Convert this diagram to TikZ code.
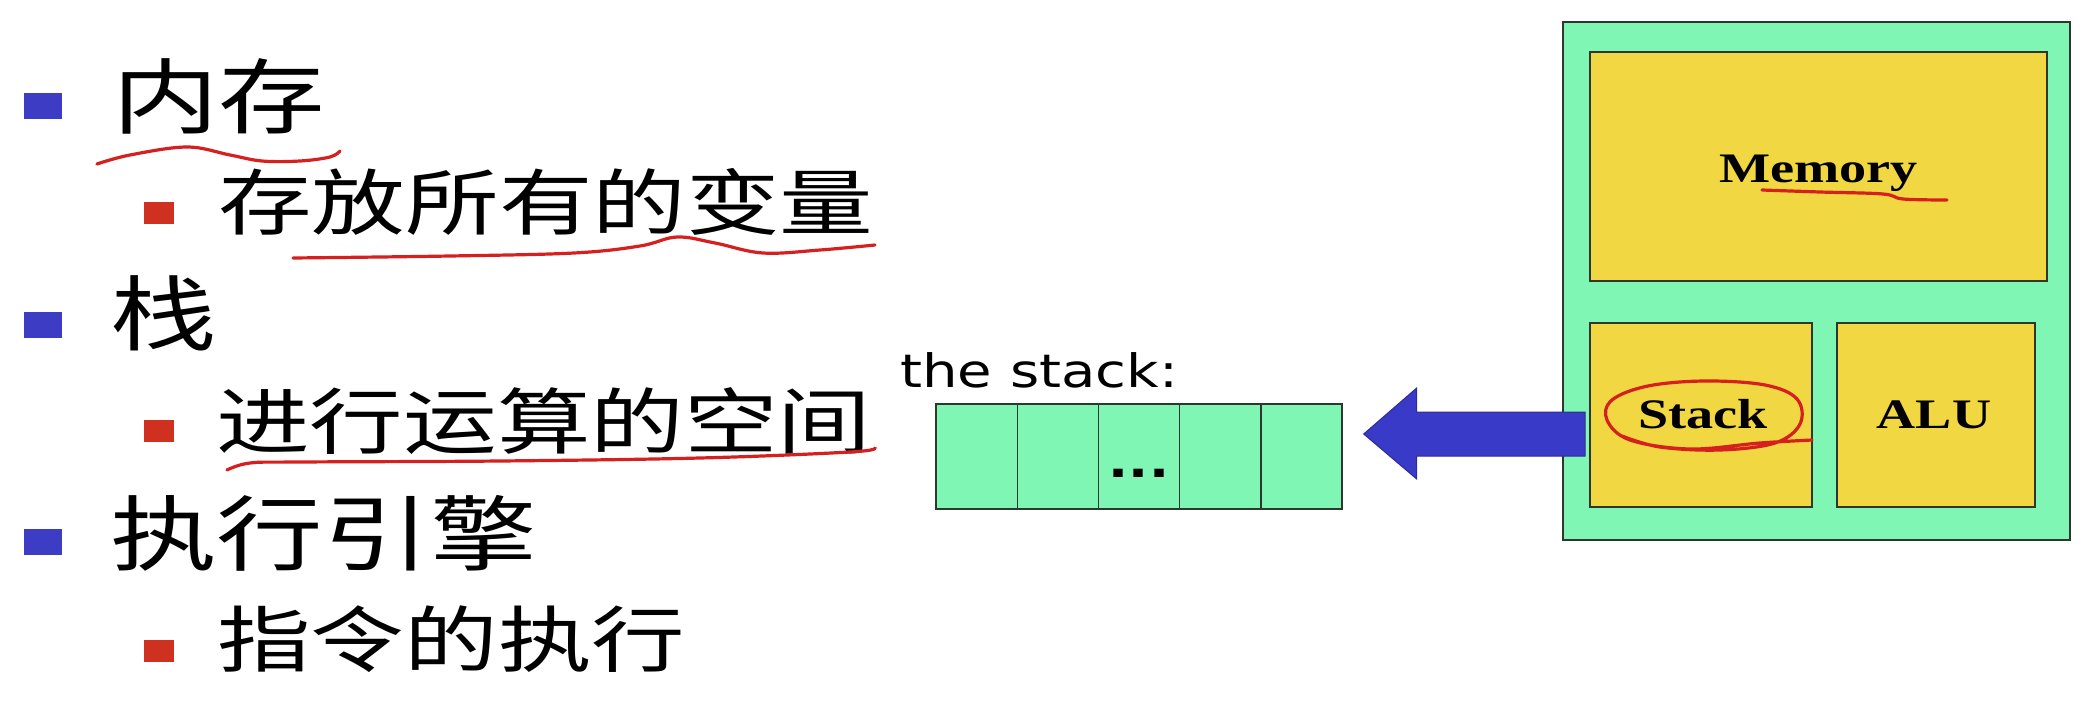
\documentclass[tikz,border=0pt]{standalone}
\usepackage{fontspec}
\setmainfont{Liberation Serif}
\newfontfamily\cjk{Noto Sans CJK SC}
\newfontfamily\verd{DejaVu Sans}
\usetikzlibrary{calc}
\definecolor{boxgreen}{RGB}{128,246,180}
\definecolor{boxyellow}{RGB}{241,215,66}
\definecolor{bulletblue}{RGB}{60,60,196}
\definecolor{bulletred}{RGB}{208,48,32}
\definecolor{arrowblue}{RGB}{58,58,200}
\definecolor{penred}{RGB}{214,32,32}
\definecolor{edgegray}{RGB}{45,55,45}
\begin{document}
\begin{tikzpicture}[x=1pt,y=-1pt,
  lvlone/.style={anchor=base west, inner sep=0pt, font=\cjk\fontsize{82}{90}\selectfont, xscale=1.3},
  lvltwo/.style={anchor=base west, inner sep=0pt, font=\cjk\fontsize{72}{80}\selectfont, xscale=1.3},
  bluebullet/.style={rectangle, fill=bulletblue, inner sep=0pt, minimum width=38pt, minimum height=26pt},
  redbullet/.style={rectangle, fill=bulletred, inner sep=0pt, minimum width=30pt, minimum height=22pt},
  greenbox/.style={rectangle, fill=boxgreen, draw=edgegray, line width=1.6pt, inner sep=0pt},
  yellowbox/.style={rectangle, fill=boxyellow, draw=edgegray, line width=1.6pt, inner sep=0pt},
  cell/.style={rectangle, fill=boxgreen, draw=edgegray, line width=1.4pt, inner sep=0pt, minimum width=81.2pt, minimum height=105pt},
  boxlabel/.style={anchor=base, inner sep=0pt, font=\bfseries\fontsize{42}{46}\selectfont, xscale=1.29},
  pen/.style={draw=penred, line width=3.2pt, line cap=round, line join=round}
]
\useasboundingbox[fill=white] (0,0) rectangle (2096,712);

% bullets
\node[bluebullet] (b1) at (43,106) {};
\node[redbullet]  (b2) at (159,212.5) {};
\node[bluebullet] (b3) at (43,325) {};
\node[redbullet]  (b4) at (159,431) {};
\node[bluebullet] (b5) at (43,541.5) {};
\node[redbullet]  (b6) at (159,650.5) {};

% texts
\node[lvlone] (t1) at (112,127) {内存};
\node[lvltwo] (t2) at (218,229) {存放所有的变量};
\node[lvlone] (t3) at (110,344) {栈};
\node[lvltwo] (t4) at (216,448) {进行运算的空间};
\node[lvlone] (t5) at (110,564) {执行引擎};
\node[lvltwo] (t6) at (217,666) {指令的执行};

% the stack
\node[anchor=base west, inner sep=0pt, font=\verd\fontsize{46}{50}\selectfont, xscale=1.22] (stlabel) at (900,387) {the stack:};
\node[cell] (c1) at (976.6,456.5) {};
\node[cell] (c2) at (1057.8,456.5) {};
\node[cell] (c3) at (1139,456.5) {};
\node[cell] (c4) at (1220.2,456.5) {};
\node[cell] (c5) at (1301.4,456.5) {};
\node[anchor=base, inner sep=0pt, font=\verd\bfseries\fontsize{44}{48}\selectfont, xscale=1.2] (dots) at ($(c3.center)+(0,21)$) {...};

% machine
\node[greenbox, minimum width=507pt, minimum height=518pt] (chip) at (1816.5,281) {};
\node[yellowbox, minimum width=457pt, minimum height=229pt] (mem) at (1818.5,166.5) {};
\node[yellowbox, minimum width=222pt, minimum height=184pt] (stk) at (1701,415) {};
\node[yellowbox, minimum width=198pt, minimum height=184pt] (alu) at (1936,415) {};
\node[boxlabel] (meml) at ($(mem.center)+(0,15.5)$) {Memory};
\node[boxlabel] (stkl) at ($(stk.center)+(2,13)$) {Stack};
\node[boxlabel] (alul) at ($(alu.center)+(-2,13)$) {ALU};

% arrow from Stack to the stack
\coordinate (atail) at ($(stk.west)+(-4,19)$);
\coordinate (atip) at ($(c5.east)+(21,-22.5)$);
\filldraw[fill=arrowblue, draw=arrowblue!75!black, line width=1pt]
  ($(atail)+(0,-22)$) -- ($(atip)+(53,-22)$) -- ($(atip)+(53,-46)$) -- (atip)
  -- ($(atip)+(53,45)$) -- ($(atip)+(53,22)$) -- ($(atail)+(0,22)$) -- cycle;

% pen annotations
\draw[pen] plot[smooth, tension=0.6] coordinates {(97,164) (130,155) (187,147) (230,155) (262,161) (300,161) (330,157) (340,151)};
\draw[pen] plot[smooth, tension=0.6] coordinates {(293,258) (450,256) (574,253) (640,246) (677,237) (715,243) (763,253) (820,250) (875,245)};
\draw[pen] plot[smooth, tension=0.6] coordinates {(227,470) (250,463) (300,462) (500,461) (700,458) (850,452) (875,448)};
\draw[pen] plot[smooth, tension=0.6] coordinates {(1762,190) (1820,192) (1883,194) (1903,199) (1947,200)};
\draw[pen] plot[smooth, tension=0.6] coordinates {(1622,436) (1660,447) (1720,450) (1775,443) (1800,424) (1797,399) (1765,385) (1705,381) (1648,386) (1612,400) (1607,420) (1630,440) (1690,449) (1760,443) (1812,440)};
\end{tikzpicture}
\end{document}
